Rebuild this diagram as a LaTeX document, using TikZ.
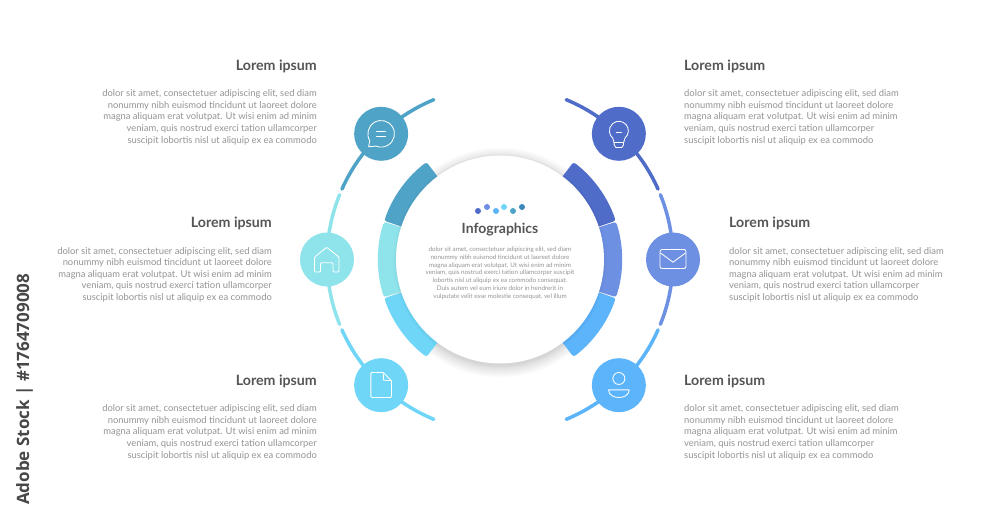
\documentclass[tikz,border=0pt]{standalone}
\usepackage{fontspec}
\setmainfont{Lato}
\newfontfamily\stockfont{Open Sans}
\definecolor{cA}{HTML}{4FA3C7}
\definecolor{cB}{HTML}{8FE4EC}
\definecolor{cC}{HTML}{6FD6F7}
\definecolor{cD}{HTML}{4F6CC9}
\definecolor{cE}{HTML}{6E90E3}
\definecolor{cF}{HTML}{5CB4FB}
\definecolor{headc}{HTML}{555555}
\definecolor{bodyc}{HTML}{949494}
\tikzset{
  bodytext/.style={inner sep=0pt,text=bodyc,font=\fontsize{9.4}{11.6}\selectfont},
  headtext/.style={inner sep=0pt,text=headc,font=\fontsize{14.2}{15}\selectfont\bfseries},
  dotmark/.style={circle,inner sep=0pt,minimum size=6pt},
  badge/.style={circle,inner sep=0pt,minimum size=54pt},
  arcline/.style={line width=3.5pt,line cap=round},
  seg/.style={rounded corners=2.5pt},
  icon/.style={draw=white,line width=0.85pt,line join=round,line cap=round}
}
\newcommand{\LA}{dolor sit amet, consectetuer adipiscing elit, sed diam\\nonummy nibh euismod tincidunt ut laoreet dolore\\magna aliquam erat volutpat. Ut wisi enim ad minim\\veniam, quis nostrud exerci tation ullamcorper\\suscipit lobortis nisl ut aliquip ex ea commodo}
\begin{document}
\begin{tikzpicture}[x=1pt,y=1pt]
\useasboundingbox (0,0) rectangle (1000,519);
\fill[white] (0,0) rectangle (1000,519);
\begin{scope}[shift={(500,259.5)}]
  % outer arcs
  \draw[arcline,cA] (112.5:173) arc[start angle=112.5,end angle=156,radius=173];
  \draw[arcline,cB] (158:173) arc[start angle=158,end angle=202,radius=173];
  \draw[arcline,cC] (204:173) arc[start angle=204,end angle=247.5,radius=173];
  \draw[arcline,cD] (67.5:173) arc[start angle=67.5,end angle=24,radius=173];
  \draw[arcline,cE] (22:173) arc[start angle=22,end angle=-22,radius=173];
  \draw[arcline,cF] (-24:173) arc[start angle=-24,end angle=-67.5,radius=173];
  % circle soft shadow
  \foreach \r in {115,114,113,112,111,110,109,108,107,106,105}{\fill[black,opacity=0.012] (0,-3) circle[radius=\r];}
  % ring
  \fill[cB,seg] (162:95) -- (162:122) arc[start angle=162,end angle=198,radius=122] -- (198:95) -- cycle;
  \fill[cE,seg] (18:95) -- (18:122) arc[start angle=18,end angle=-18,radius=122] -- (-18:95) -- cycle;
  \fill[cA,seg] (127:95) -- (127:122) arc[start angle=127,end angle=161.5,radius=122] -- (161.5:95) -- cycle;
  \fill[cC,seg] (198.5:95) -- (198.5:122) arc[start angle=198.5,end angle=233,radius=122] -- (233:95) -- cycle;
  \fill[cD,seg] (53:95) -- (53:122) arc[start angle=53,end angle=18.5,radius=122] -- (18.5:95) -- cycle;
  \fill[cF,seg] (-18.5:95) -- (-18.5:122) arc[start angle=-18.5,end angle=-53,radius=122] -- (-53:95) -- cycle;
  \foreach \r in {107,106,105}{\fill[black,opacity=0.012] (0,-1) circle[radius=\r];}
  \fill[white] (0,0) circle[radius=104];
  % badges
  \node[badge,fill=cA] (n1) at (133.4:173) {};
  \node[badge,fill=cB] (n2) at (180:173) {};
  \node[badge,fill=cC] (n3) at (226.6:173) {};
  \node[badge,fill=cD] (n4) at (46.6:173) {};
  \node[badge,fill=cE] (n5) at (0:173) {};
  \node[badge,fill=cF] (n6) at (-46.6:173) {};
\end{scope}
% chat
\begin{scope}[shift={(n1.center)}]
  \draw[icon] (211:13.3) arc[start angle=211,end angle=-113,radius=13.3] -- (-12.5,-13) -- cycle;
  \draw[icon] (-4.5,2.4) -- (4.5,2.4) (-4.5,-2.4) -- (4.5,-2.4);
\end{scope}
% house
\begin{scope}[shift={(n2.center)}]
  \draw[icon,rounded corners=1pt] (-0.3,12.3) -- (12,2.3) -- (12,-12.5) -- (6,-12.5) -- (6,-3.3) -- (-6.5,-3.3) -- (-6.5,-12.5) -- (-12.5,-12.5) -- (-12.5,2.3) -- cycle;
\end{scope}
% document
\begin{scope}[shift={(n3.center)}]
  \draw[icon,rounded corners=1pt] (-10.3,12.7) -- (2,12.7) -- (10.3,4.5) -- (10.3,-12.3) -- (-10.3,-12.3) -- cycle;
  \draw[icon] (2,12.7) -- (2.5,5) -- (10.3,4.5);
\end{scope}
% bulb
\begin{scope}[shift={(n4.center)}]
  \draw[icon] (-50:9.5)++(0,3) arc[start angle=-50,end angle=230,radius=9.5] -- (-4.7,-9) -- (-4.7,-11) -- (-3,-13.7) -- (3,-13.7) -- (4.7,-11) -- (4.7,-9) -- cycle;
  \draw[icon] (-4.7,-9) -- (4.7,-9) (-2.5,1) -- (2.5,1);
\end{scope}
% envelope
\begin{scope}[shift={(n5.center)}]
  \draw[icon,rounded corners=2pt] (-13,-9) rectangle (13,10);
  \draw[icon] (-12.5,6.5) -- (0,-2.7) -- (12.5,6.5);
\end{scope}
% user
\begin{scope}[shift={(n6.center)}]
  \draw[icon] (0,6.7) circle[radius=6];
  \draw[icon] (-10.3,-4.7) -- (10.3,-4.7) .. controls (10.3,-10) and (5,-12.3) .. (0,-12.3) .. controls (-5,-12.3) and (-10.3,-10) .. (-10.3,-4.7) -- cycle;
\end{scope}
% centre
\node[dotmark,fill=cD] (d1) at (478,308) {};
\node[dotmark,fill=cE] (d2) at (487,312) {};
\node[dotmark,fill=cF] (d3) at (496,308) {};
\node[dotmark,fill=cC] (d4) at (504,312) {};
\node[dotmark,fill=cA] (d5) at (513,308) {};
\node[dotmark,fill={rgb,255:red,58;green,135;blue,184}] (d6) at (522,312) {};
\node[inner sep=0pt,text=headc,font=\fontsize{14}{15}\selectfont\bfseries] (title) at (500,289) {Infographics};
\node[inner sep=0pt,text=bodyc,align=center,anchor=north,font=\fontsize{6.25}{7.8}\selectfont] (ctext) at (500,272.3) {dolor sit amet, consectetuer adipiscing elit, sed diam\\nonummy nibh euismod tincidunt ut laoreet dolore\\magna aliquam erat volutpat. Ut wisi enim ad minim\\veniam, quis nostrud exerci tation ullamcorper suscipit\\lobortis nisl ut aliquip ex ea commodo consequat.\\Duis autem vel eum iriure dolor in hendrerit in\\vulputate velit esse molestie consequat, vel illum};
% left labels
\node[headtext,anchor=base east] (h1) at (317,448.5) {Lorem ipsum};
\node[bodytext,align=right,anchor=north east] (b1) at (317,429.5) {\LA};
\node[headtext,anchor=base east] (h2) at (272,291.5) {Lorem ipsum};
\node[bodytext,align=right,anchor=north east] (b2) at (272,272) {\LA};
\node[headtext,anchor=base east] (h3) at (317,133.5) {Lorem ipsum};
\node[bodytext,align=right,anchor=north east] (b3) at (317,114.5) {\LA};
% right labels
\node[headtext,anchor=base west] (h4) at (684,448.5) {Lorem ipsum};
\node[bodytext,align=left,anchor=north west] (b4) at (684,429.5) {\LA};
\node[headtext,anchor=base west] (h5) at (729,291.5) {Lorem ipsum};
\node[bodytext,align=left,anchor=north west] (b5) at (729,272) {\LA};
\node[headtext,anchor=base west] (h6) at (684,133.5) {Lorem ipsum};
\node[bodytext,align=left,anchor=north west] (b6) at (684,114.5) {\LA};
% stock label
\node[inner sep=0pt,rotate=90,anchor=base west,text=black!72,font=\stockfont\fontsize{17}{17}\selectfont\bfseries] (stock) at (29,14) {Adobe Stock | \#1764709008};
\end{tikzpicture}
\end{document}
